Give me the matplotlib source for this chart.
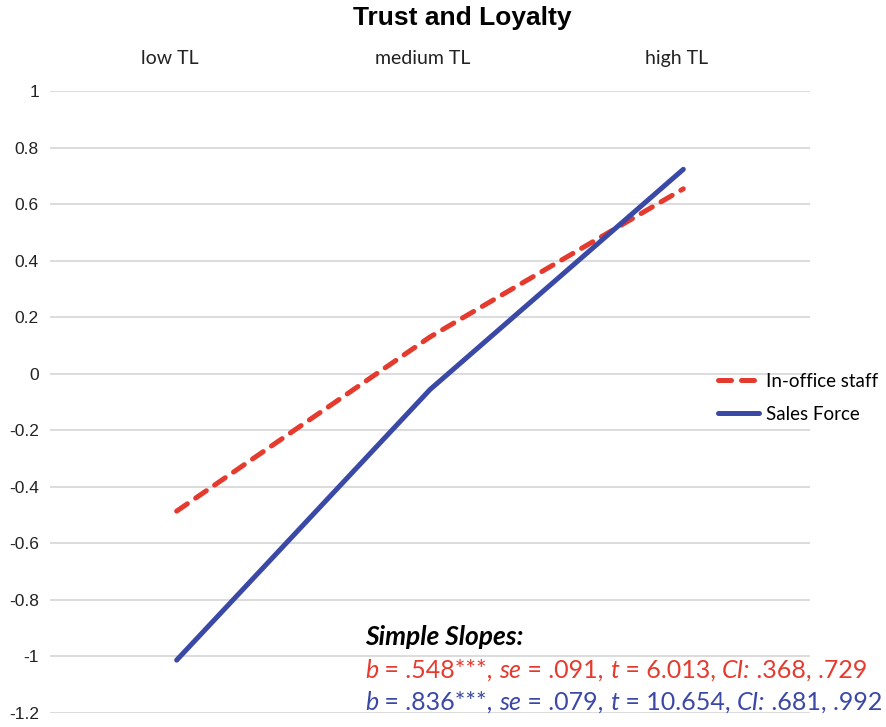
import numpy as np
import matplotlib
matplotlib.use("Agg")
import matplotlib.pyplot as plt
from matplotlib.font_manager import FontProperties
from matplotlib.transforms import ScaledTranslation

# ---- data ----
categories = ["low TL", "medium TL", "high TL"]
in_office = [-0.486, 0.13, 0.654]
sales_force = [-1.013, -0.056, 0.723]
series_labels = ["In-office staff", "Sales Force"]
y_ticks = [1.0, 0.8, 0.6, 0.4, 0.2, 0.0, -0.2, -0.4, -0.6, -0.8, -1.0, -1.2]
y_tick_labels = ["1", "0.8", "0.6", "0.4", "0.2", "0", "-0.2", "-0.4", "-0.6", "-0.8", "-1", "-1.2"]
title = "Trust and Loyalty"
slopes_header = "Simple Slopes:"
slopes_red = [("b", True), (" = .548***, ", False), ("se", True), (" = .091, ", False),
              ("t", True), (" = 6.013, ", False), ("CI:", True), (" .368, .729", False)]
slopes_blue = [("b", True), (" = .836***, ", False), ("se", True), (" = .079, ", False),
               ("t", True), (" = 10.654, ", False), ("CI:", True), (" .681, .992", False)]

RED = "#E53A2E"
BLUE = "#3A48A6"
GRID = "#D9D9D9"

W, H = 887, 727
fig = plt.figure(figsize=(W / 100, H / 100), dpi=100)
ax = fig.add_axes([50 / W, 14 / H, 760 / W, 622 / H])

x = np.arange(len(categories))
ax.plot(x, in_office, color=RED, lw=3.6, dashes=(2.6, 2.0), dash_capstyle="round",
        solid_capstyle="round", label=series_labels[0], zorder=3)
ax.plot(x, sales_force, color=BLUE, lw=3.6, solid_capstyle="round",
        label=series_labels[1], zorder=4)

ax.set_xlim(-0.5, 2.5)
ax.set_ylim(-1.2, 1.0)
ax.set_yticks(y_ticks)
ax.set_yticklabels(y_tick_labels, fontfamily="Liberation Sans", fontsize=12.5, color="#222222")
ax.set_xticks(x)
ax.set_xticklabels(categories, fontfamily="Lato", fontsize=14, color="#222222")
ax.xaxis.tick_top()
ax.tick_params(axis="x", length=0, pad=17)
ax.tick_params(axis="y", length=0, pad=8)
shift = ScaledTranslation(-7 / 100, 0, fig.dpi_scale_trans)
for lab in ax.get_xticklabels():
    lab.set_transform(lab.get_transform() + shift)
for s in ax.spines.values():
    s.set_visible(False)
ax.grid(axis="y", color=GRID, lw=1.3)
ax.set_axisbelow(True)

fig.text(462 / W, 1 - 18 / H, title, ha="center", va="center",
         fontfamily="Liberation Sans", fontweight="bold", fontsize=19)

leg = fig.legend(loc="upper left", bbox_to_anchor=(701 / W, 1 - 356 / H), frameon=False,
                 handlelength=2.2, handletextpad=0.35, labelspacing=0.85,
                 prop=FontProperties(family="Lato", size=13.5))

# ---- simple slopes annotation ----
fig.canvas.draw()
renderer = fig.canvas.get_renderer()


def width_px(s, prop):
    w1, _, _ = renderer.get_text_width_height_descent("|" + s + "|", prop, ismath=False)
    w0, _, _ = renderer.get_text_width_height_descent("||", prop, ismath=False)
    return w1 - w0


size = 18
fig.text(365 / W, 1 - 645 / H, slopes_header, ha="left", va="baseline",
         fontfamily="Lato", fontstyle="italic", fontweight="bold", fontsize=19, color="black")


def draw_line(pieces, ybase, color):
    xp = 365.0
    for txt, ital in pieces:
        prop = FontProperties(family="Lato", style="italic" if ital else "normal", size=size)
        fig.text(xp / W, 1 - ybase / H, txt, ha="left", va="baseline",
                 fontproperties=prop, color=color)
        xp += width_px(txt, prop)


draw_line(slopes_red, 678, RED)
draw_line(slopes_blue, 710, BLUE)

fig.savefig("out.png", dpi=100)
